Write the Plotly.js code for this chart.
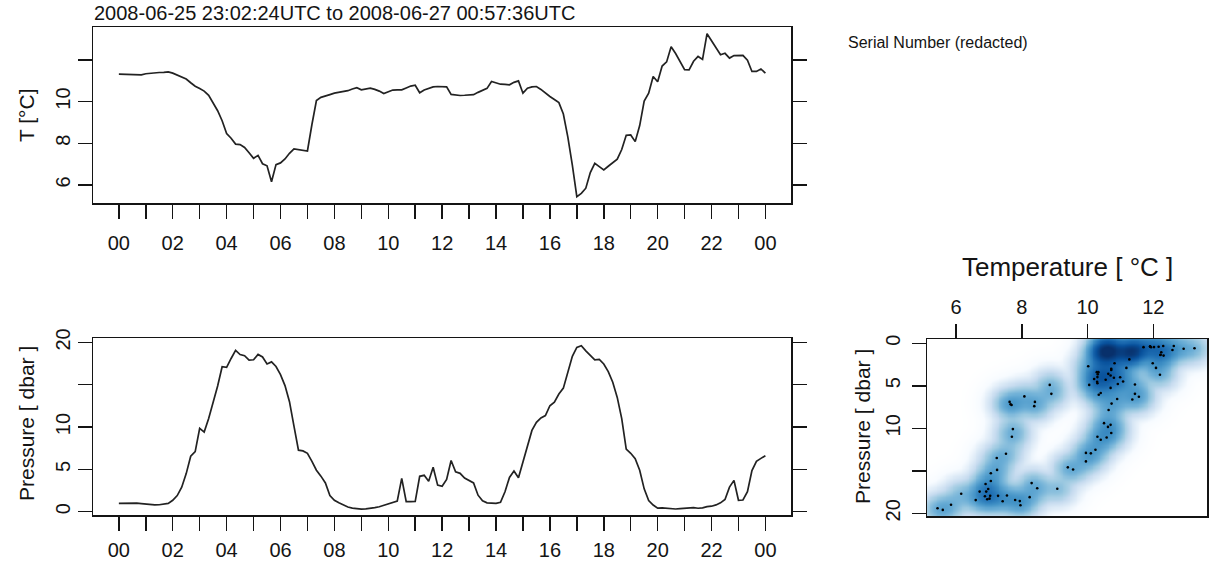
<!DOCTYPE html>
<html><head><meta charset="utf-8">
<script src="https://cdn.plot.ly/plotly-3.0.1.min.js"></script>
<style>html,body{margin:0;padding:0;background:#fff}#chart{width:1209px;height:567px}</style>
</head><body><div id="chart"></div>
<script>
// ---- data ----
const minutes = [0,10,20,30,40,50,60,70,80,90,100,110,120,130,140,150,160,170,180,190,200,210,220,230,240,250,260,270,280,290,300,310,320,330,340,350,360,370,380,390,400,410,420,430,440,450,460,470,480,490,500,510,520,530,540,550,560,570,580,590,600,610,620,630,640,650,660,670,680,690,700,710,720,730,740,750,760,770,780,790,800,810,820,830,840,850,860,870,880,890,900,910,920,930,940,950,960,970,980,990,1000,1010,1020,1030,1040,1050,1060,1070,1080,1090,1100,1110,1120,1130,1140,1150,1160,1170,1180,1190,1200,1210,1220,1230,1240,1250,1260,1270,1280,1290,1300,1310,1320,1330,1340,1350,1360,1370,1380,1390,1400,1410,1420,1430,1440];
const temperature = [
11.31,11.31,11.30,11.31,11.29,11.28,11.33,11.36,11.37,11.39,
11.40,11.42,11.36,11.27,11.18,11.08,10.90,10.73,10.62,10.50,
10.30,9.95,9.56,9.08,8.47,8.24,7.96,7.94,7.80,7.55,
7.28,7.42,7.02,6.92,6.16,6.98,7.06,7.25,7.52,7.73,
7.69,7.66,7.63,8.90,10.05,10.20,10.28,10.33,10.40,10.43,
10.47,10.52,10.60,10.66,10.56,10.60,10.64,10.58,10.50,10.38,
10.45,10.55,10.56,10.56,10.65,10.74,10.78,10.42,10.55,10.63,
10.70,10.72,10.72,10.70,10.34,10.30,10.29,10.30,10.31,10.33,
10.44,10.53,10.63,10.96,10.88,10.83,10.82,10.80,10.92,10.99,
10.40,10.64,10.70,10.72,10.58,10.40,10.24,10.10,9.95,9.40,
8.30,6.95,5.44,5.60,5.85,6.60,7.04,6.88,6.72,6.90,
7.06,7.24,7.70,8.38,8.40,8.08,8.85,10.02,10.40,11.20,
10.95,11.70,11.90,12.62,12.30,11.90,11.53,11.52,11.93,12.16,
12.02,13.25,12.92,12.58,12.24,12.31,12.08,12.20,12.22,12.21,
11.98,11.44,11.44,11.56,11.36];
const pressure = [
0.98,1.00,1.04,1.05,1.01,0.96,0.90,0.85,0.80,0.82,
0.90,0.98,1.35,1.90,2.90,4.50,6.55,7.10,9.84,9.40,
11.00,12.90,14.85,17.12,17.05,18.10,19.05,18.57,18.43,17.90,
17.95,18.58,18.28,17.45,17.70,17.15,16.20,14.90,13.00,10.10,
7.27,7.18,6.90,5.95,4.90,4.20,3.40,1.90,1.35,1.05,
0.80,0.55,0.43,0.35,0.31,0.34,0.39,0.48,0.58,0.75,
0.93,1.08,1.25,3.94,1.18,1.18,1.20,4.18,4.30,3.60,
5.25,3.14,3.00,3.80,6.05,4.70,4.53,3.98,3.65,3.40,
1.95,1.30,1.05,1.00,0.98,1.10,2.36,4.05,4.80,4.00,
5.85,7.85,9.60,10.55,11.08,11.35,12.52,12.95,13.90,14.60,
16.45,18.35,19.40,19.60,19.00,18.45,17.95,18.00,17.45,16.55,
15.30,13.50,11.00,7.40,6.90,6.25,4.90,2.70,1.32,0.79,
0.42,0.46,0.40,0.33,0.32,0.36,0.40,0.44,0.47,0.41,
0.45,0.59,0.65,0.80,1.05,1.45,2.90,3.70,1.35,1.38,
2.36,4.85,5.95,6.30,6.61];
const hourTickVals = [0,1,2,3,4,5,6,7,8,9,10,11,12,13,14,15,16,17,18,19,20,21,22,23,24];
const hourTickText = ['00','','02','','04','','06','','08','','10','','12','','14','','16','','18','','20','','22','','00'];
const tempTickVals = [6,8,10,12];
const tempTickText = ['6','8','10',''];
const presTickVals = [0,5,10,15,20];
const presTickText = ['0','5','10','','20'];
const scatTempTickVals = [6,8,10,12];
const scatTempTickText = ['6','8','10','12'];
const titleText = '2008-06-25 23:02:24UTC to 2008-06-27 00:57:36UTC';
const serialText = 'Serial Number (redacted)';
const blues = ['#FFFFFF','#F7FBFF','#DEEBF7','#C6DBEF','#9ECAE1','#6BAED6','#4292C6','#2171B5','#08519C','#08306B'];

// ---- derived ----
const hours = minutes.map(m => m / 60);

function quantile(arr, p) {
  const s = arr.slice().sort((a, b) => a - b);
  const h = (s.length - 1) * p, lo = Math.floor(h);
  return lo + 1 < s.length ? s[lo] + (h - lo) * (s[lo + 1] - s[lo]) : s[lo];
}
const BW_SCALE = 1.2;
const bwT = BW_SCALE * (quantile(temperature, 0.95) - quantile(temperature, 0.05)) / 25;
const bwP = BW_SCALE * (quantile(pressure, 0.95) - quantile(pressure, 0.05)) / 25;
function dens(x, y) {
  let s = 0;
  for (let k = 0; k < temperature.length; k++) {
    const a = (x - temperature[k]) / bwT, b = (y - pressure[k]) / bwP;
    s += Math.exp(-0.5 * (a * a + b * b));
  }
  return s;
}
const NX = 170, NY = 170;
const gx = [], gy = [];
for (let i = 0; i < NX; i++) gx.push(4.9 + i * (14.0 - 4.9) / (NX - 1));
for (let j = 0; j < NY; j++) gy.push(-1.0 + j * (21.0 + 1.0) / (NY - 1));
const gz = [];
let zmax = 0;
for (let j = 0; j < NY; j++) {
  const row = [];
  for (let i = 0; i < NX; i++) {
    const v = Math.pow(dens(gx[i], gy[j]), 0.25);
    row.push(v); if (v > zmax) zmax = v;
  }
  gz.push(row);
}
const ptDens = temperature.map((t, k) => ({k, d: dens(t, pressure[k])}));
ptDens.sort((a, b) => a.d - b.d);
const sel = ptDens.slice(0, 100).map(o => o.k);
const selT = sel.map(k => temperature[k]);
const selP = sel.map(k => pressure[k]);

const colorscale = blues.map((c, i) => [i / (blues.length - 1), c]);

const W = 1209, H = 567;
const px = v => v / W, py = v => 1 - v / H;
const FONT = 'Liberation Sans, Arial, Helvetica, sans-serif';
const INK = '#141414';

const traces = [
  {type: 'scatter', mode: 'lines', x: hours, y: temperature, xaxis: 'x', yaxis: 'y',
   line: {color: '#222', width: 1.7}, hoverinfo: 'skip'},
  {type: 'scatter', mode: 'lines', x: hours, y: pressure, xaxis: 'x2', yaxis: 'y2',
   line: {color: '#222', width: 1.7}, hoverinfo: 'skip'},
  {type: 'heatmap', x: gx, y: gy, z: gz, xaxis: 'x3', yaxis: 'y3', zsmooth: 'best',
   colorscale: colorscale, zmin: 0, zmax: zmax * 0.97, showscale: false, hoverinfo: 'skip'},
  {type: 'scatter', mode: 'markers', x: selT, y: selP, xaxis: 'x3', yaxis: 'y3',
   marker: {color: '#000', size: 2.6}, hoverinfo: 'skip'}
];

const axBase = {
  showline: true, linecolor: INK, linewidth: 1.5, showgrid: false, zeroline: false,
  ticks: 'outside', ticklen: 14, tickwidth: 1.5, tickcolor: INK,
  tickfont: {family: FONT, size: 20, color: INK}, tickmode: 'array', fixedrange: true
};

const layout = {
  width: W, height: H, margin: {l: 0, r: 0, t: 0, b: 0},
  paper_bgcolor: '#fff', plot_bgcolor: '#fff', showlegend: false,
  font: {family: FONT, color: INK},
  xaxis: Object.assign({}, axBase, {domain: [px(93), px(791)], anchor: 'y', range: [-0.96, 24.95],
    tickvals: hourTickVals, ticktext: hourTickText, mirror: true, ticklabelstandoff: 7}),
  yaxis: Object.assign({}, axBase, {domain: [py(203), py(27)], anchor: 'x', range: [5.14, 13.57],
    tickvals: tempTickVals, ticktext: tempTickText, tickangle: -90, mirror: 'ticks', ticklabelstandoff: 0}),
  xaxis2: Object.assign({}, axBase, {domain: [px(93), px(791)], anchor: 'y2', range: [-0.96, 24.95],
    tickvals: hourTickVals, ticktext: hourTickText, mirror: true, ticklabelstandoff: 2}),
  yaxis2: Object.assign({}, axBase, {domain: [py(515), py(338)], anchor: 'x2', range: [-0.39, 20.52],
    tickvals: presTickVals, ticktext: presTickText, tickangle: -90, mirror: 'ticks', ticklabelstandoff: 0}),
  xaxis3: Object.assign({}, axBase, {domain: [px(927), px(1207)], anchor: 'y3', side: 'top', range: [5.12, 13.63],
    tickvals: scatTempTickVals, ticktext: scatTempTickText, mirror: true, ticklabelstandoff: 2}),
  yaxis3: Object.assign({}, axBase, {domain: [py(516), py(339)], anchor: 'x3', range: [20.32, -0.5],
    tickvals: presTickVals, ticktext: presTickText, tickangle: -90, mirror: true, ticklabelstandoff: 4}),
  annotations: [
    {text: titleText, xref: 'paper', yref: 'paper', x: px(92), y: py(13), xanchor: 'left', yanchor: 'middle',
     showarrow: false, font: {family: FONT, size: 20, color: INK}},
    {text: serialText, xref: 'paper', yref: 'paper', x: px(846), y: py(42), xanchor: 'left', yanchor: 'middle',
     showarrow: false, font: {family: FONT, size: 16, color: INK}},
    {text: 'T [°C]', xref: 'paper', yref: 'paper', x: px(26), y: py(115), xanchor: 'center', yanchor: 'middle',
     textangle: -90, showarrow: false, font: {family: FONT, size: 21, color: INK}},
    {text: 'Pressure [ dbar ]', xref: 'paper', yref: 'paper', x: px(26), y: py(424), xanchor: 'center', yanchor: 'middle',
     textangle: -90, showarrow: false, font: {family: FONT, size: 21, color: INK}},
    {text: 'Temperature [ °C ]', xref: 'paper', yref: 'paper', x: px(1067), y: py(267), xanchor: 'center', yanchor: 'middle',
     showarrow: false, font: {family: FONT, size: 26, color: INK}},
    {text: 'Pressure [ dbar ]', xref: 'paper', yref: 'paper', x: px(862), y: py(427), xanchor: 'center', yanchor: 'middle',
     textangle: -90, showarrow: false, font: {family: FONT, size: 21, color: INK}}
  ]
};

Plotly.newPlot('chart', traces, layout, {staticPlot: true, displayModeBar: false});
</script>
</body></html>
